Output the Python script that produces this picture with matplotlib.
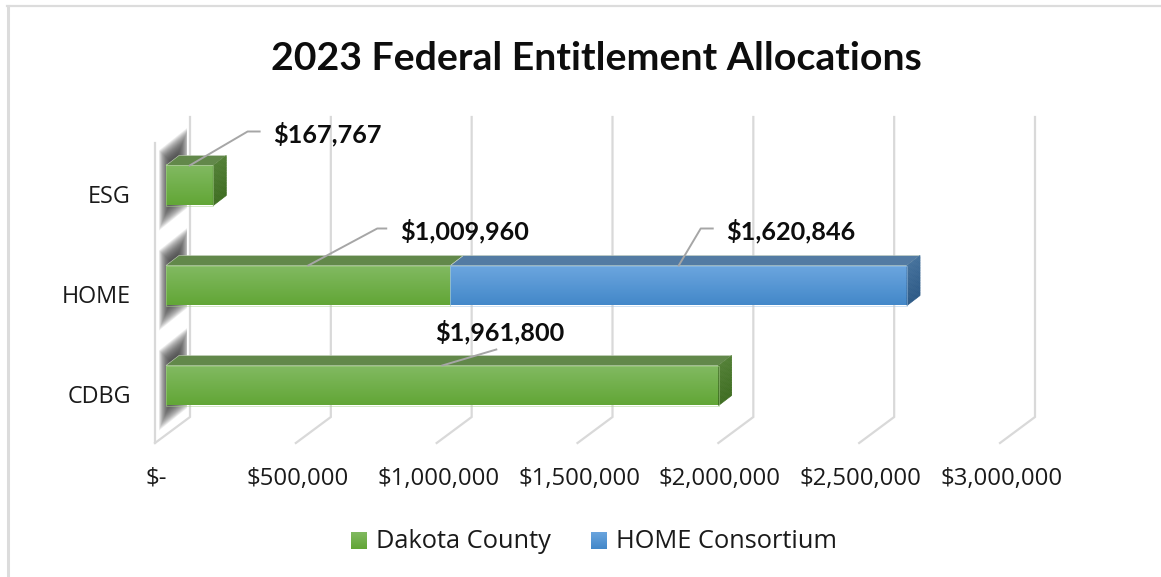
import matplotlib
matplotlib.use("Agg")
import matplotlib.pyplot as plt
import numpy as np
from matplotlib.colors import LinearSegmentedColormap
from matplotlib.patches import Polygon, Rectangle
from matplotlib.transforms import IdentityTransform

categories = ["CDBG", "HOME", "ESG"]
dakota_county = [1961800, 1009960, 167767]
home_consortium = [0, 1620846, 0]
x_ticks = [0, 500000, 1000000, 1500000, 2000000, 2500000, 3000000]
x_labels = ["$-", "$500,000", "$1,000,000", "$1,500,000", "$2,000,000", "$2,500,000", "$3,000,000"]

W, H = 1161, 577
TITLE_FONT = ["Lato", "DejaVu Sans"]
TEXT_FONT = ["Open Sans", "DejaVu Sans"]

GREEN = {"front": ["#82ba62", "#62a636"], "top": "#62884a", "side": ["#527f35", "#3f6e22"], "edge": "#a9d18e"}
BLUE = {"front": ["#6ca6df", "#4388c9"], "top": "#537ba3", "side": ["#44719c", "#2d5a87"], "edge": "#9dc3e6"}

BAR_H = 0.4
DEPTH = (13, 10)  # bar depth in pixels
disp = IdentityTransform()


def px_y(y_px):
    # y pixel from top of image -> display
    return H - y_px


def draw_segment(ax, left, width, y, style, z):
    right = left + width
    y0, y1 = y - BAR_H / 2, y + BAR_H / 2
    grad = np.linspace(0, 1, 64).reshape(-1, 1)
    cmap = LinearSegmentedColormap.from_list("front", style["front"])
    ax.imshow(grad, extent=[left, right, y0, y1], cmap=cmap, aspect="auto", origin="upper",
              zorder=z, interpolation="bilinear")
    ax.add_patch(Rectangle((left, y0), width, BAR_H, fill=False, ec=style["edge"], lw=0.5, alpha=0.7,
                           zorder=z + 0.1))
    # top face
    p0 = ax.transData.transform((left, y1))
    p1 = ax.transData.transform((right, y1))
    dx, dy = DEPTH
    ax.add_patch(Polygon([p0, p1, p1 + [dx, dy], p0 + [dx, dy]], closed=True, fc=style["top"],
                         ec="#c9d4c0", lw=0.4, transform=disp, zorder=z, clip_on=False))


def draw_side(ax, right, y, style, z):
    y0, y1 = y - BAR_H / 2, y + BAR_H / 2
    p0 = ax.transData.transform((right, y0))
    p1 = ax.transData.transform((right, y1))
    dx, dy = DEPTH
    n = 24
    tops = np.linspace(0, 1, n + 1)
    cmap = LinearSegmentedColormap.from_list("side", style["side"])
    for i in range(n):
        a = p1 + (p0 - p1) * tops[i]
        b = p1 + (p0 - p1) * tops[i + 1]
        c = cmap(i / (n - 1))
        ax.add_patch(Polygon([a, a + [dx, dy], b + [dx, dy], b], closed=True, fc=c, ec=c, lw=0.5,
                             transform=disp, zorder=z, clip_on=False))


def draw_wall_shadow(ax, y):
    # soft dark band where each bar meets the side wall
    xmid, ymid = ax.transData.transform((0, y))
    xc = xmid + 8
    yc = ymid + 7
    for t in np.linspace(1, 0, 24):
        half_w = 1 + 14 * t
        half_h = 16 + 24 * t
        x_l, x_r = xc - half_w, min(xc + half_w, xmid + 21)
        slope = 0.8
        pts = [(x_l, yc + (x_l - xc) * slope - half_h), (x_r, yc + (x_r - xc) * slope - half_h),
               (x_r, yc + (x_r - xc) * slope + half_h), (x_l, yc + (x_l - xc) * slope + half_h)]
        ax.add_patch(Polygon(pts, closed=True, fc="#3a3a3a", ec="none", alpha=0.09,
                             transform=disp, zorder=1, clip_on=False))


fig = plt.figure(figsize=(W / 100, H / 100), dpi=100)
fig.patch.set_facecolor("white")

# axes: x=0 at px 166, x=3M at px 1011, category spacing 100 px
ax = fig.add_axes([166 / W, (H - 435.5) / H, 845 / W, 300 / H])
ax.set_xlim(0, 3000000)
ax.set_ylim(-0.5, 2.5)
ax.axis("off")

y_pos = np.arange(len(categories))

# gridlines on back wall plus floor stubs
for t in x_ticks:
    xd = ax.transData.transform((t, 0))[0]
    ax.plot([xd + 24, xd + 24, xd - 11], [px_y(117), px_y(417), px_y(443)], color="#d9d9d9", lw=1.6,
            transform=disp, zorder=0.5, solid_joinstyle="miter", clip_on=False)
x0 = ax.transData.transform((0, 0))[0]
ax.plot([x0 - 11, x0 - 11], [px_y(143), px_y(443)], color="#d9d9d9", lw=1.6, transform=disp, zorder=0.5,
        clip_on=False)

for y in y_pos:
    draw_wall_shadow(ax, y)

for i, y in enumerate(y_pos):
    d, h = dakota_county[i], home_consortium[i]
    draw_segment(ax, 0, d, y, GREEN, 3)
    if h:
        draw_segment(ax, d, h, y, BLUE, 3)
        draw_side(ax, d + h, y, BLUE, 3)
    else:
        draw_side(ax, d, y, GREEN, 3)

ax.set_xlim(0, 3000000)
ax.set_ylim(-0.5, 2.5)

# category labels
for y, name in zip(y_pos, categories):
    yd = ax.transData.transform((0, y))[1]
    fig.text(131 / W, (yd - 11.5) / H, name, ha="right", va="center", fontsize=16.8, color="#1a1a1a",
             family=TEXT_FONT)

# tick labels
for t, lab in zip(x_ticks, x_labels):
    xd = ax.transData.transform((t, 0))[0]
    fig.text((xd - 9.5) / W, (H - 479) / H, lab, ha="center", va="center", fontsize=17.2, color="#1a1a1a",
             family=TEXT_FONT)

# data labels with leader lines: value, anchor x, category, elbow dx/dy, end dx, label px
leaders = [
    (dakota_county[2], dakota_county[2] / 2, 2, (58, 34), 70, 273, 134),
    (dakota_county[1], dakota_county[1] / 2, 1, (69, 37), 78, 400, 231),
    (home_consortium[1], dakota_county[1] + home_consortium[1] / 2, 1, (22, 37), 34, 726, 231),
    (dakota_county[0], dakota_county[0] / 2, 0, (54, 16), 54, 435, 332),
]
for val, xa, y, elbow, end, lx, ly in leaders:
    ax_px = ax.transData.transform((xa, y + BAR_H / 2))
    xs = [ax_px[0], ax_px[0] + elbow[0], ax_px[0] + end]
    ys = [ax_px[1], ax_px[1] + elbow[1], ax_px[1] + elbow[1]]
    ax.plot(xs, ys, color="#a6a6a6", lw=1.4, transform=disp, zorder=5, clip_on=False)
    fig.text(lx / W, (H - ly) / H, f"${val:,.0f}", ha="left", va="center", fontsize=18.2, fontweight="bold",
             color="#0d0d0d", family=TITLE_FONT)

# title
fig.text(596.5 / W, (H - 59) / H, "2023 Federal Entitlement Allocations", ha="center", va="center",
         fontsize=28.3, fontweight="bold", color="#0d0d0d", family=TITLE_FONT)

# legend
for lx, c, lab in [(351, GREEN, "Dakota County"), (591, BLUE, "HOME Consortium")]:
    grad = np.linspace(0, 1, 32).reshape(-1, 1)
    cmap = LinearSegmentedColormap.from_list("leg", c["front"])
    lax = fig.add_axes([lx / W, (H - 549) / H, 16 / W, 17 / H])
    lax.imshow(grad, cmap=cmap, aspect="auto")
    lax.axis("off")
    fig.text((lx + 25) / W, (H - 542) / H, lab, ha="left", va="center", fontsize=18.3, color="#1a1a1a",
             family=TEXT_FONT)

# chart frame: left and top only
fig.add_artist(plt.Line2D([8 / W, 8 / W], [0, (H - 6) / H], color="#dcdcdc", lw=2.2))
fig.add_artist(plt.Line2D([7 / W, 1], [(H - 6) / H, (H - 6) / H], color="#dcdcdc", lw=1.6))

fig.savefig("out.png", dpi=100)
